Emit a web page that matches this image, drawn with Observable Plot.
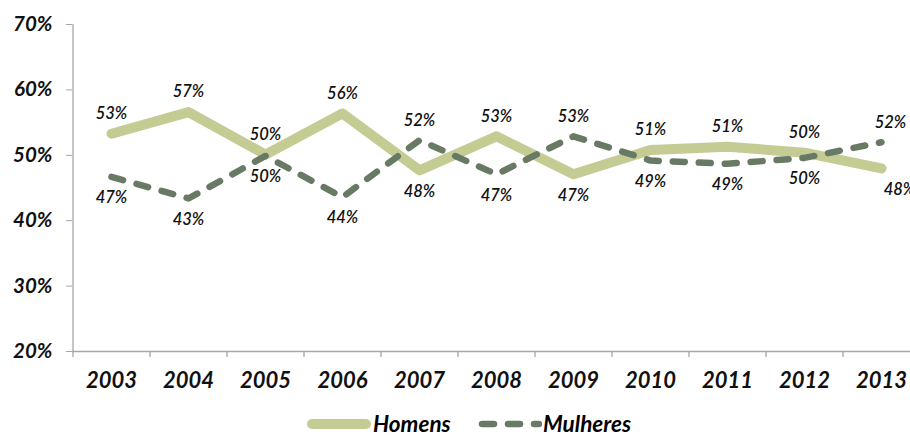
<!DOCTYPE html>
<html>
<head>
<meta charset="utf-8">
<script src="https://cdn.jsdelivr.net/npm/d3@7"></script>
<script src="https://cdn.jsdelivr.net/npm/@observablehq/plot@0.6"></script>
<style>
  html, body { margin: 0; padding: 0; background: #fff; overflow: hidden; }
  #legend { height: 37px; position: relative; font-family: Lato, sans-serif; font-style: italic; font-weight: 700; font-size: 22.5px; color: #000; }
  .item { position: absolute; top: 5px; height: 38px; display: flex; align-items: center; line-height: 1; }
</style>
</head>
<body>
<div id="chart"></div>
<div id="legend"></div>
<script>
const years = ["2003","2004","2005","2006","2007","2008","2009","2010","2011","2012","2013"];
const homens = [53.3, 56.6, 50.1, 56.4, 47.7, 52.9, 47.1, 50.8, 51.3, 50.4, 48.0];
const mulheres = [46.7, 43.4, 49.9, 43.6, 52.3, 47.1, 52.9, 49.2, 48.7, 49.6, 52.0];
const yTicks = [20, 30, 40, 50, 60, 70];
const seriesNames = ["Homens", "Mulheres"];

const colors = {Homens: "#c4cc94", Mulheres: "#687a64"};
const axisColor = "#a6a6a6";

const rowsH = years.map((y, i) => ({year: y, v: homens[i], other: mulheres[i]}));
const rowsM = years.map((y, i) => ({year: y, v: mulheres[i], other: homens[i]}));
const all = [...rowsH, ...rowsM];
const lastYear = years[years.length - 1];
const above = all.filter(d => d.v >= d.other);
const below = all.filter(d => d.v < d.other);
const halfStep = 38.5;
const labelFont = {fontFamily: "Lato, sans-serif", fontStyle: "italic", fontWeight: 600, fontSize: 16.5, fill: "#111"};

const chart = Plot.plot({
  width: 910,
  height: 400,
  marginTop: 24,
  marginBottom: 49,
  marginLeft: 72,
  marginRight: 0,
  style: {fontFamily: "Lato, sans-serif", background: "#fff", overflow: "hidden"},
  x: {type: "point", domain: years, range: [72, 919], padding: 0.5, axis: null},
  y: {domain: [20, 70], axis: null},
  marks: [
    Plot.ruleY([20], {stroke: axisColor, strokeWidth: 1.3}),
    Plot.ruleX([years[0]], {y1: 20, y2: 70, dx: -halfStep, stroke: axisColor, strokeWidth: 1.3}),
    Plot.ruleX(years, {y1: 20, y2: 20, insetBottom: -6, dx: -halfStep, stroke: axisColor, strokeWidth: 1.3}),
    Plot.axisY({ticks: yTicks, label: null, tickSize: 6, tickPadding: 14, stroke: axisColor, tickFormat: d => d + "%", fontSize: 20.5, fontWeight: 700, fontStyle: "italic", fill: "#111", anchor: "left"}),
    Plot.text(years, {x: d => d, y: 20, dy: 29, text: d => d, fontFamily: "Lato, sans-serif", fontStyle: "italic", fontWeight: 700, fontSize: 22, fill: "#111"}),
    Plot.line(rowsH, {x: "year", y: "v", stroke: colors.Homens, strokeWidth: 10, strokeLinecap: "round", strokeLinejoin: "round"}),
    Plot.line(rowsM, {x: "year", y: "v", stroke: colors.Mulheres, strokeWidth: 6.5, strokeLinecap: "round", strokeLinejoin: "round", strokeDasharray: "12,14"}),
    Plot.text(above.filter(d => d.year !== lastYear), {x: "year", y: "v", dy: -20, text: d => Math.round(d.v) + "%", ...labelFont}),
    Plot.text(below.filter(d => d.year !== lastYear), {x: "year", y: "v", dy: 21, text: d => Math.round(d.v) + "%", ...labelFont}),
    Plot.text(above.filter(d => d.year === lastYear), {x: "year", y: "v", dy: -20, dx: 9, text: d => Math.round(d.v) + "%", ...labelFont}),
    Plot.text(below.filter(d => d.year === lastYear), {x: "year", y: "v", dy: 21, dx: 18, text: d => Math.round(d.v) + "%", ...labelFont})
  ]
});
document.getElementById("chart").appendChild(chart);

const legend = document.getElementById("legend");
legend.innerHTML = `
  <div class="item" style="left:307px">
    <svg width="64" height="14"><line x1="5" y1="7" x2="59" y2="7" stroke="${colors.Homens}" stroke-width="10" stroke-linecap="round"/></svg>
    <span style="margin-left:2px">${seriesNames[0]}</span>
  </div>
  <div class="item" style="left:476px">
    <svg width="66" height="14"><line x1="6" y1="7" x2="63" y2="7" stroke="${colors.Mulheres}" stroke-width="6.5" stroke-linecap="round" stroke-dasharray="12,14"/></svg>
    <span style="margin-left:1px">${seriesNames[1]}</span>
  </div>`;
</script>
</body>
</html>
